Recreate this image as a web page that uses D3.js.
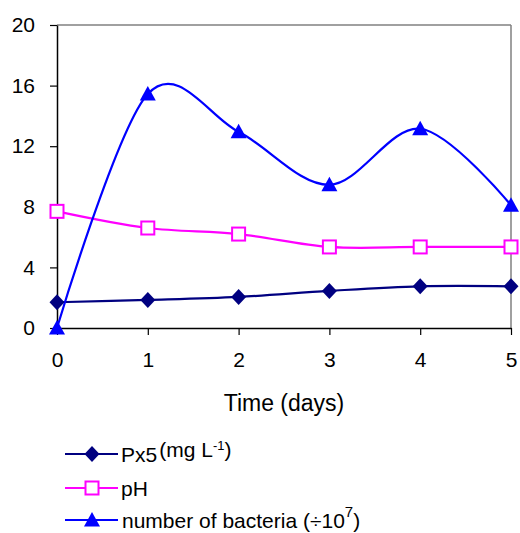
<!DOCTYPE html>
<html><head><meta charset="utf-8">
<script src="https://cdn.jsdelivr.net/npm/d3@7"></script>
<style>
html,body{margin:0;padding:0;background:#fff;}
text{font-family:"Liberation Sans",Arial,sans-serif;fill:#000;}
</style></head>
<body><svg id="chart" width="520" height="533"></svg>
<script>
const days = [0, 1, 2, 3, 4, 5];
const px5 = [1.7, 1.85, 2.05, 2.45, 2.75, 2.75];
const ph = [7.7, 6.6, 6.2, 5.35, 5.35, 5.35];
const bacteria = [0, 15.45, 12.95, 9.45, 13.15, 8.1];
const yTicks = [0, 4, 8, 12, 16, 20];
const xTicks = [0, 1, 2, 3, 4, 5];

const svg = d3.select("#chart");
const m = {left: 57, right: 511, top: 25, bottom: 328};
const x = d3.scaleLinear().domain([0, 5]).range([m.left, m.right]);
const y = d3.scaleLinear().domain([0, 20]).range([m.bottom, m.top]);

// frame (gray top/right)
svg.append("line").attr("x1", m.left).attr("x2", m.right).attr("y1", m.top).attr("y2", m.top).attr("stroke", "#808080").attr("stroke-width", 1.5);
svg.append("line").attr("x1", m.right).attr("x2", m.right).attr("y1", m.top).attr("y2", m.bottom).attr("stroke", "#808080").attr("stroke-width", 1.5);

const yAxis = svg.append("g").attr("transform", `translate(${m.left},0)`)
  .call(d3.axisLeft(y).tickValues(yTicks).tickFormat(d3.format("d")).tickSize(7).tickPadding(14).tickSizeOuter(0));
const xAxis = svg.append("g").attr("transform", `translate(0,${m.bottom})`)
  .call(d3.axisBottom(x).tickValues(xTicks).tickFormat(d3.format("d")).tickSize(7).tickPadding(17).tickSizeOuter(0));
[yAxis, xAxis].forEach(g => {
  g.select(".domain").attr("stroke", "#000").attr("stroke-width", 1.5);
  g.selectAll(".tick line").attr("stroke", "#000").attr("stroke-width", 1.2);
  g.selectAll("text").style("font-family", '"Liberation Sans",Arial,sans-serif').style("font-size", "21px").attr("fill", "#000");
});
yAxis.selectAll("text").attr("x", -22);

svg.append("text").attr("x", (m.left + m.right) / 2).attr("y", 411)
  .attr("text-anchor", "middle").style("font-size", "23px").text("Time (days)");

const line = d3.line().x((d, i) => x(days[i])).y(d => y(d)).curve(d3.curveCardinal.tension(0));

const series = [
  {name: "px5", data: px5, color: "#000080", marker: "diamond"},
  {name: "ph", data: ph, color: "#FF00FF", marker: "square"},
  {name: "bac", data: bacteria, color: "#0000FF", marker: "triangle"}
];

function drawMarker(g, type, color, cx, cy) {
  if (type === "diamond") {
    g.append("path").attr("d", `M${cx},${cy-8}L${cx+7.5},${cy}L${cx},${cy+8}L${cx-7.5},${cy}Z`).attr("fill", color);
  } else if (type === "square") {
    g.append("rect").attr("x", cx - 6.5).attr("y", cy - 6.5).attr("width", 13).attr("height", 13)
      .attr("fill", "#fff").attr("stroke", color).attr("stroke-width", 2);
  } else {
    g.append("path").attr("d", `M${cx},${cy-8}L${cx+8},${cy+6.5}L${cx-8},${cy+6.5}Z`).attr("fill", color);
  }
}

series.forEach(s => {
  svg.append("path").datum(s.data).attr("d", line).attr("fill", "none")
    .attr("stroke", s.color).attr("stroke-width", 2.2);
});
series.forEach(s => {
  const g = svg.append("g");
  s.data.forEach((d, i) => drawMarker(g, s.marker, s.color, x(days[i]), y(d)));
});

// legend
const legY = [454, 488, 520];
series.forEach((s, i) => {
  const g = svg.append("g");
  g.append("line").attr("x1", 65).attr("x2", 118).attr("y1", legY[i]).attr("y2", legY[i]).attr("stroke", s.color).attr("stroke-width", 2);
  drawMarker(g, s.marker, s.color, 92, legY[i]);
});
const t1 = svg.append("text").attr("x", 121).attr("y", legY[0] + 8).style("font-size", "21px");
t1.append("tspan").text("Px5");
t1.append("tspan").attr("dy", -5).attr("dx", 2).style("font-size", "21px").text("(mg L");
t1.append("tspan").attr("dy", -7).style("font-size", "13px").text("-1");
t1.append("tspan").attr("dy", 7).style("font-size", "21px").text(")");
svg.append("text").attr("x", 121).attr("y", legY[1] + 8).style("font-size", "21px").text("pH");
const t3 = svg.append("text").attr("x", 122).attr("y", legY[2] + 8).style("font-size", "21px");
t3.append("tspan").text("number of bacteria (÷10");
t3.append("tspan").attr("dy", -11).style("font-size", "15px").text("7");
t3.append("tspan").attr("dy", 11).text(")");
</script></body></html>
